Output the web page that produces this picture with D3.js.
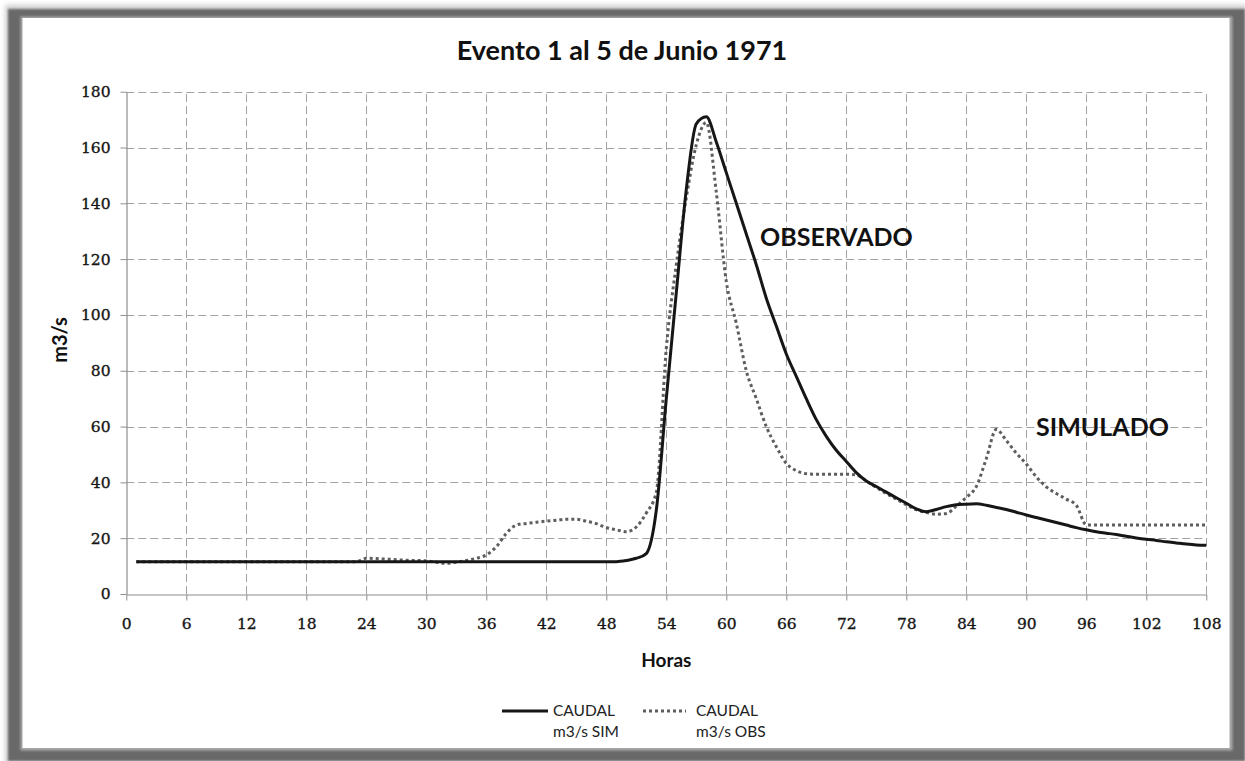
<!DOCTYPE html>
<html>
<head>
<meta charset="utf-8">
<script src="https://cdn.jsdelivr.net/npm/d3@7"></script>
<style>
  html, body { margin: 0; padding: 0; background: #fff; }
  svg { display: block; }
</style>
</head>
<body>
<svg id="chart" width="1245" height="761"></svg>
<script>
// Hourly discharge, event of 1–5 June 1971
const hours = [
  1, 2, 3, 4, 5, 6, 7, 8, 9, 10, 11, 12, 13, 14, 15, 16, 17, 18,
  19, 20, 21, 22, 23, 24, 25, 26, 27, 28, 29, 30, 31, 32, 33, 34, 35, 36,
  37, 38, 39, 40, 41, 42, 43, 44, 45, 46, 47, 48, 49, 50, 51, 52, 53, 54,
  55, 56, 57, 58, 59, 60, 61, 62, 63, 64, 65, 66, 67, 68, 69, 70, 71, 72,
  73, 74, 75, 76, 77, 78, 79, 80, 81, 82, 83, 84, 85, 86, 87, 88, 89, 90,
  91, 92, 93, 94, 95, 96, 97, 98, 99, 100, 101, 102, 103, 104, 105, 106, 107, 108
];

// CAUDAL m3/s SIM
const simFlow = [
  11.6, 11.6, 11.6, 11.6, 11.6, 11.6, 11.6, 11.6, 11.6, 11.6, 11.6, 11.6, 11.6, 11.6, 11.6, 11.6, 11.6, 11.6,
  11.6, 11.6, 11.6, 11.6, 11.6, 11.6, 11.6, 11.6, 11.6, 11.6, 11.6, 11.6, 11.6, 11.6, 11.6, 11.6, 11.6, 11.6,
  11.6, 11.6, 11.6, 11.6, 11.6, 11.6, 11.6, 11.6, 11.6, 11.6, 11.6, 11.6, 11.6, 12.0, 12.8, 14.5, 30.0, 70.0,
  108, 145, 168.5, 171, 162, 151, 140, 129, 118, 106, 96, 86, 78, 70, 62.5, 56.5, 51.5, 47.5,
  43.5, 40.5, 38.5, 36.5, 34.5, 32.5, 30.5, 29.5, 30.3, 31.3, 32.0, 32.2, 32.3, 31.8, 31.0, 30.3, 29.3, 28.3,
  27.4, 26.5, 25.6, 24.7, 23.8, 23.0, 22.3, 21.8, 21.3, 20.7, 20.1, 19.6, 19.2, 18.7, 18.3, 17.9, 17.6, 17.5
];

// CAUDAL m3/s OBS
const obsFlow = [
  11.6, 11.6, 11.6, 11.6, 11.6, 11.6, 11.6, 11.6, 11.6, 11.6, 11.6, 11.6, 11.6, 11.6, 11.6, 11.6, 11.6, 11.6,
  11.6, 11.6, 11.6, 11.6, 11.6, 12.8, 12.7, 12.5, 12.3, 12.1, 12.0, 11.9, 11.4, 11.0, 11.4, 12.0, 12.8, 14.0,
  16.9, 21.7, 24.7, 25.3, 25.7, 26.1, 26.4, 26.8, 26.8, 26.1, 25.2, 23.8, 23.0, 22.3, 24.0, 29.0, 36.5, 88,
  118, 142, 161, 169, 144, 112, 97, 80, 70, 60, 52.8, 46.8, 44.2, 43.1, 42.9, 42.9, 42.9, 42.9,
  42.7, 40.5, 38.2, 36.0, 34.0, 32.0, 30.2, 29.2, 28.6, 28.8, 31.5, 34.6, 38.5, 48.5, 59.0, 55.0, 50.5, 46.6,
  42.0, 38.4, 36.0, 34.0, 31.8, 24.8, 24.7, 24.7, 24.7, 24.7, 24.7, 24.7, 24.7, 24.7, 24.7, 24.7, 24.7, 24.7
];

const xTicks = [0, 6, 12, 18, 24, 30, 36, 42, 48, 54, 60, 66, 72, 78, 84, 90, 96, 102, 108];
const yTicks = [0, 20, 40, 60, 80, 100, 120, 140, 160, 180];

const titleText = "Evento 1 al 5 de Junio 1971";
const xTitle = "Horas";
const yTitle = "m3/s";
const seriesNames = [["CAUDAL", "m3/s SIM"], ["CAUDAL", "m3/s OBS"]];
const notes = [
  { text: "OBSERVADO", x: 760, y: 245.5 },
  { text: "SIMULADO", x: 1036, y: 436 }
];

const svg = d3.select("#chart");
const W = 1245, H = 761;

// ---- framed panel with a soft dark border ----
const defs = svg.append("defs");
defs.append("filter").attr("id", "soft").attr("x", "-5%").attr("y", "-5%")
  .attr("width", "110%").attr("height", "110%")
  .append("feGaussianBlur").attr("stdDeviation", 2.5);
defs.append("filter").attr("id", "edge")
  .append("feGaussianBlur").attr("stdDeviation", 0.9);

svg.append("rect").attr("x", 0).attr("y", 0).attr("width", W).attr("height", H).attr("fill", "#fff");
svg.append("rect").attr("x", 5).attr("y", 5).attr("width", W - 3).attr("height", H - 2)
  .attr("fill", "#cfcfcf").attr("filter", "url(#soft)");
svg.append("rect").attr("x", 8).attr("y", 9).attr("width", W - 8).attr("height", H - 9)
  .attr("fill", "#696969").attr("filter", "url(#edge)");
svg.append("rect").attr("x", 20.5).attr("y", 16.5).attr("width", 1212).attr("height", 734)
  .attr("fill", "#a9a9a9").attr("filter", "url(#edge)");
svg.append("rect").attr("x", 22.5).attr("y", 18).attr("width", 1207).attr("height", 730)
  .attr("fill", "#ffffff");

// ---- scales ----
const x = d3.scaleLinear().domain([0, 108]).range([126.3, 1206.3]);
const y = d3.scaleLinear().domain([0, 180]).range([594, 91.7]);

const g = svg.append("g");

// grid
g.append("g").selectAll("line").data(yTicks.filter(d => d > 0)).join("line")
  .attr("x1", x(0)).attr("x2", x(108))
  .attr("y1", d => Math.round(y(d)) + 0.5).attr("y2", d => Math.round(y(d)) + 0.5)
  .attr("stroke", "#a3a3a3").attr("stroke-width", 1).attr("stroke-dasharray", "8,4");
g.append("g").selectAll("line").data(xTicks.filter(d => d > 0)).join("line")
  .attr("y1", y(0)).attr("y2", y(180))
  .attr("x1", d => Math.round(x(d)) + 0.5).attr("x2", d => Math.round(x(d)) + 0.5)
  .attr("stroke", "#a3a3a3").attr("stroke-width", 1).attr("stroke-dasharray", "8,4");

// axes
const tickFont = "'DejaVu Serif', serif";
const yAxis = g.append("g").attr("transform", `translate(${Math.round(x(0)) + 0.5},0)`)
  .call(d3.axisLeft(y).tickValues(yTicks).tickSize(6).tickSizeOuter(0).tickPadding(10));
const xAxis = g.append("g").attr("transform", `translate(0,${Math.round(y(0)) + 0.5})`)
  .call(d3.axisBottom(x).tickValues(xTicks).tickSize(6).tickSizeOuter(0));
[yAxis, xAxis].forEach(a => {
  a.select(".domain").attr("stroke", "#8e8e8e").attr("stroke-width", 1.2);
  a.selectAll(".tick line").attr("stroke", "#8e8e8e");
  a.selectAll(".tick text").attr("font-family", tickFont).attr("font-size", 15.5)
    .attr("fill", "#161616").attr("stroke", "#161616").attr("stroke-width", 0.35);
});
xAxis.selectAll(".tick text").attr("y", 34).attr("dy", null);

// lines
const line = (vals) => d3.line()
  .x((d, i) => x(hours[i]))
  .y(d => y(d))
  .curve(d3.curveMonotoneX)(vals);

g.append("path").attr("d", line(obsFlow)).attr("fill", "none")
  .attr("stroke", "#5e5e5e").attr("stroke-width", 3).attr("stroke-dasharray", "3,3");
g.append("path").attr("d", line(simFlow)).attr("fill", "none")
  .attr("stroke", "#161616").attr("stroke-width", 3).attr("stroke-linejoin", "round");

// titles
const sans = "Lato, 'Open Sans', sans-serif";
svg.append("text").attr("x", 622).attr("y", 60).attr("text-anchor", "middle")
  .attr("font-family", sans).attr("font-weight", 700).attr("font-size", 27)
  .attr("fill", "#111").text(titleText);
svg.append("text").attr("x", x(54)).attr("y", 667).attr("text-anchor", "middle")
  .attr("font-family", sans).attr("font-weight", 700).attr("font-size", 19)
  .attr("fill", "#111").text(xTitle);
svg.append("text").attr("transform", "translate(67,340) rotate(-90)").attr("text-anchor", "middle")
  .attr("font-family", sans).attr("font-weight", 700).attr("font-size", 20)
  .attr("fill", "#111").text(yTitle);

// annotations
svg.append("g").selectAll("text").data(notes).join("text")
  .attr("x", d => d.x).attr("y", d => d.y)
  .attr("font-family", sans).attr("font-weight", 700).attr("font-size", 25)
  .attr("fill", "#111").text(d => d.text);

// legend
const legend = svg.append("g");
const legendItems = [
  { x1: 502, x2: 548, tx: 553, stroke: "#161616", dash: null, names: seriesNames[0] },
  { x1: 643, x2: 686, tx: 696, stroke: "#5e5e5e", dash: "3,3", names: seriesNames[1] }
];
legendItems.forEach(it => {
  legend.append("line").attr("x1", it.x1).attr("x2", it.x2).attr("y1", 711).attr("y2", 711)
    .attr("stroke", it.stroke).attr("stroke-width", 3).attr("stroke-dasharray", it.dash);
  it.names.forEach((t, k) => {
    legend.append("text").attr("x", it.tx).attr("y", 716 + k * 21)
      .attr("font-family", sans).attr("font-size", 15.5).attr("fill", "#222").text(t);
  });
});
</script>
</body>
</html>
